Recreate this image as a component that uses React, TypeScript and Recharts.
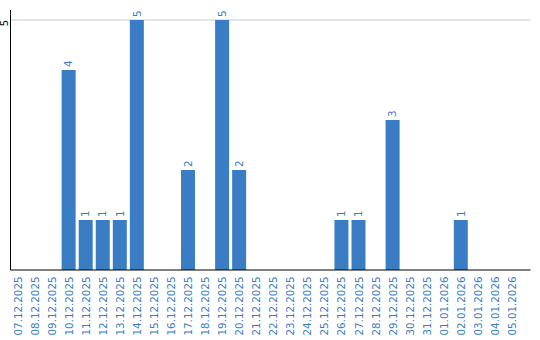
import { Bar, BarChart, CartesianGrid, LabelList, XAxis, YAxis } from "recharts";

const dates = [
  "07.12.2025", "08.12.2025", "09.12.2025", "10.12.2025", "11.12.2025",
  "12.12.2025", "13.12.2025", "14.12.2025", "15.12.2025", "16.12.2025",
  "17.12.2025", "18.12.2025", "19.12.2025", "20.12.2025", "21.12.2025",
  "22.12.2025", "23.12.2025", "24.12.2025", "25.12.2025", "26.12.2025",
  "27.12.2025", "28.12.2025", "29.12.2025", "30.12.2025", "31.12.2025",
  "01.01.2026", "02.01.2026", "03.01.2026", "04.01.2026", "05.01.2026",
];
const counts = [
  0, 0, 0, 4, 1, 1, 1, 5, 0, 0,
  2, 0, 5, 2, 0, 0, 0, 0, 0, 1,
  1, 0, 3, 0, 0, 0, 1, 0, 0, 0,
];
const yTicks = [5];

const data = dates.map((date, i) => ({ date, count: counts[i] }));

const BLUE = "#3b7dc4";
const FONT = "'DejaVu Sans', Verdana, sans-serif";

function DateTick({ x, y, payload }: any) {
  const tx = x + 4.5;
  const ty = y - 1.5;
  return (
    <text
      x={tx}
      y={ty}
      transform={`rotate(-90, ${tx}, ${ty})`}
      textAnchor="end"
      fill={BLUE}
      fontSize={10.3}
      fontFamily={FONT}
    >
      {payload.value}
    </text>
  );
}

function CountTick({ x, y, payload }: any) {
  const tx = x + 5;
  const ty = y + 3;
  return (
    <text
      x={tx}
      y={ty}
      transform={`rotate(-90, ${tx}, ${ty})`}
      textAnchor="middle"
      fill="#000"
      fontSize={10}
      fontFamily={FONT}
    >
      {payload.value}
    </text>
  );
}

function ValueLabel({ x, y, width, value }: any) {
  if (!value) return null;
  const tx = x + width / 2 + 3.7;
  const ty = y - 3;
  return (
    <text
      x={tx}
      y={ty}
      transform={`rotate(-90, ${tx}, ${ty})`}
      textAnchor="start"
      fill={BLUE}
      fontSize={10.3}
      fontFamily={FONT}
    >
      {value}
    </text>
  );
}

export default function App() {
  return (
    <div style={{ position: "absolute", left: 0, top: 0, width: 540, height: 340, background: "#fff" }}>
      <BarChart
        width={540}
        height={340}
        data={data}
        margin={{ top: 10, right: 9.5, left: 0, bottom: 0 }}
      >
        <CartesianGrid vertical={false} horizontalValues={yTicks} stroke="#c8c8c8" />
        <XAxis
          dataKey="date"
          interval={0}
          height={70}
          padding={{ left: -2, right: 10.5 }}
          tickLine={false}
          axisLine={{ stroke: "#000" }}
          tick={<DateTick />}
        />
        <YAxis
          width={10.5}
          domain={[0, 5.2]}
          ticks={yTicks}
          tickLine={false}
          axisLine={{ stroke: "#000" }}
          tick={<CountTick />}
        />
        <Bar dataKey="count" fill={BLUE} barSize={14} isAnimationActive={false}>
          <LabelList dataKey="count" content={<ValueLabel />} />
        </Bar>
      </BarChart>
    </div>
  );
}
